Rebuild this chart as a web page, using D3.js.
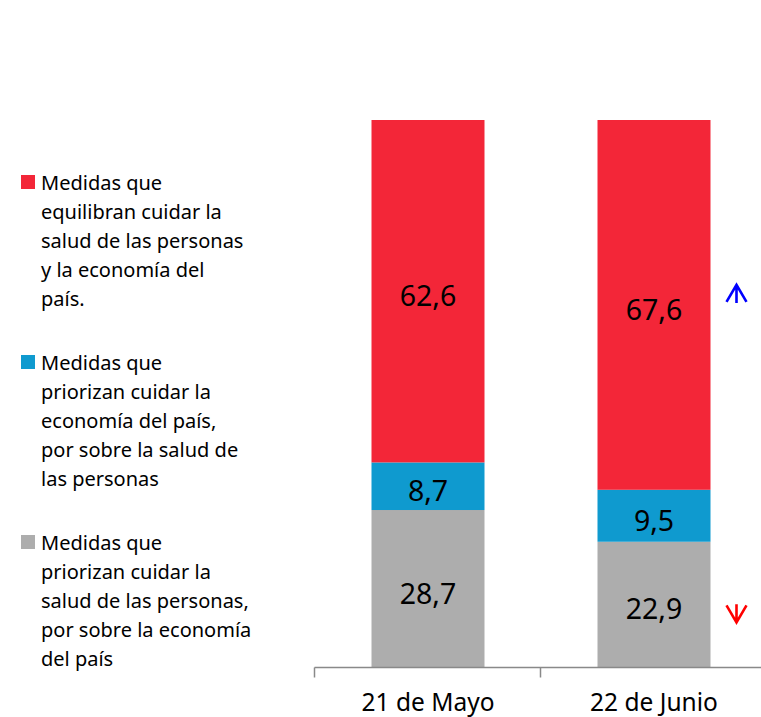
<!DOCTYPE html>
<html lang="es">
<head>
<meta charset="utf-8">
<title>Medidas</title>
<script src="https://d3js.org/d3.v7.min.js"></script>
<style>
  body { margin: 0; background: #fff; }
  text { font-family: "Noto Sans", "Open Sans", sans-serif; fill: #000; }
</style>
</head>
<body>
<script>
// data
var categories = ["21 de Mayo", "22 de Junio"];
var seriesNames = ["salud", "economia", "equilibran"];
var salud = [28.7, 22.9];
var economia = [8.7, 9.5];
var equilibran = [62.6, 67.6];
var colors = ["#adadad", "#0f9acf", "#f32638"];
var legendLabels = [
  ["Medidas que", "equilibran cuidar la", "salud de las personas", "y la economía del", "país."],
  ["Medidas que", "priorizan cuidar la", "economía del país,", "por sobre la salud de", "las personas"],
  ["Medidas que", "priorizan cuidar la", "salud de las personas,", "por sobre la economía", "del país"]
];
var legendColors = ["#f32638", "#0f9acf", "#adadad"];
// trend arrows for the second survey: up on equilibran, down on salud
var arrows = [{serie: 2, dir: "up", color: "#0000ff"}, {serie: 0, dir: "down", color: "#ff0000"}];

var width = 761, height = 717;
var svg = d3.select("body").append("svg")
  .attr("width", width).attr("height", height);

var rows = categories.map(function(c, i) {
  return {cat: c, salud: salud[i], economia: economia[i], equilibran: equilibran[i]};
});
var stacked = d3.stack().keys(seriesNames)(rows);

var x = d3.scaleBand().domain(categories).range([315, 767]).paddingInner(0.5).paddingOuter(0.25);
var y = d3.scaleLinear().domain([0, 100]).range([667, 120]);

// bars
var layer = svg.selectAll(".layer").data(stacked).enter().append("g")
  .attr("fill", function(d, i) { return colors[i]; });
layer.selectAll("rect").data(function(d) { return d; }).enter().append("rect")
  .attr("x", function(d) { return x(d.data.cat); })
  .attr("width", x.bandwidth())
  .attr("y", function(d) { return y(d[1]); })
  .attr("height", function(d) { return y(d[0]) - y(d[1]); });

// value labels
layer.selectAll("text").data(function(d) { return d; }).enter().append("text")
  .attr("x", function(d) { return x(d.data.cat) + x.bandwidth() / 2; })
  .attr("y", function(d) { return (y(d[0]) + y(d[1])) / 2 + 4; })
  .attr("text-anchor", "middle")
  .attr("dominant-baseline", "central")
  .style("font-size", "28.5px")
  .text(function(d) { return d3.format(".1f")(d[1] - d[0]).replace(".", ","); });

// x axis
var axis = svg.append("g").attr("transform", "translate(0,667.5)");
axis.append("line").attr("x1", 314.5).attr("x2", 767).attr("stroke", "#898989").attr("stroke-width", 1.5);
var step = x.step();
axis.selectAll(".tk").data(d3.range(categories.length + 1)).enter().append("line")
  .attr("x1", function(i) { return 314.5 + i * step; })
  .attr("x2", function(i) { return 314.5 + i * step; })
  .attr("y1", 0).attr("y2", 10)
  .attr("stroke", "#898989").attr("stroke-width", 1.5);
axis.selectAll(".lbl").data(categories).enter().append("text")
  .attr("x", function(d) { return x(d) + x.bandwidth() / 2; })
  .attr("y", 43)
  .attr("text-anchor", "middle")
  .style("font-size", "24.5px")
  .text(function(d) { return d; });

// legend
var lg = svg.selectAll(".leg").data(legendLabels).enter().append("g")
  .attr("transform", function(d, i) { return "translate(21," + (175 + i * 180) + ")"; });
lg.append("rect").attr("width", 14).attr("height", 14)
  .attr("fill", function(d, i) { return legendColors[i]; });
lg.append("text")
  .attr("x", 20).attr("y", 15)
  .style("font-size", "20px")
  .selectAll("tspan").data(function(d) { return d; }).enter().append("tspan")
  .attr("x", 20)
  .attr("dy", function(d, i) { return i === 0 ? 0 : 29; })
  .text(function(d) { return d; });

// arrows
var ax = x(categories[1]) + x.bandwidth() + 16;
arrows.forEach(function(a) {
  var seg = stacked[a.serie][1];
  var cy = (y(seg[0]) + y(seg[1])) / 2;
  var p;
  if (a.dir === "up") {
    cy = cy - 11;
    p = "M" + (ax + 10) + "," + (cy - 9) + "V" + (cy + 9) +
        "M" + ax + "," + (cy + 8) + "L" + (ax + 10) + "," + (cy - 9) + "L" + (ax + 20) + "," + (cy + 8);
  } else {
    cy = cy + 9;
    p = "M" + (ax + 10) + "," + (cy - 9) + "V" + (cy + 9) +
        "M" + ax + "," + (cy - 8) + "L" + (ax + 10) + "," + (cy + 9) + "L" + (ax + 20) + "," + (cy - 8);
  }
  svg.append("path").attr("d", p).attr("fill", "none")
    .attr("stroke", a.color).attr("stroke-width", 2.6);
});
</script>
</body>
</html>
